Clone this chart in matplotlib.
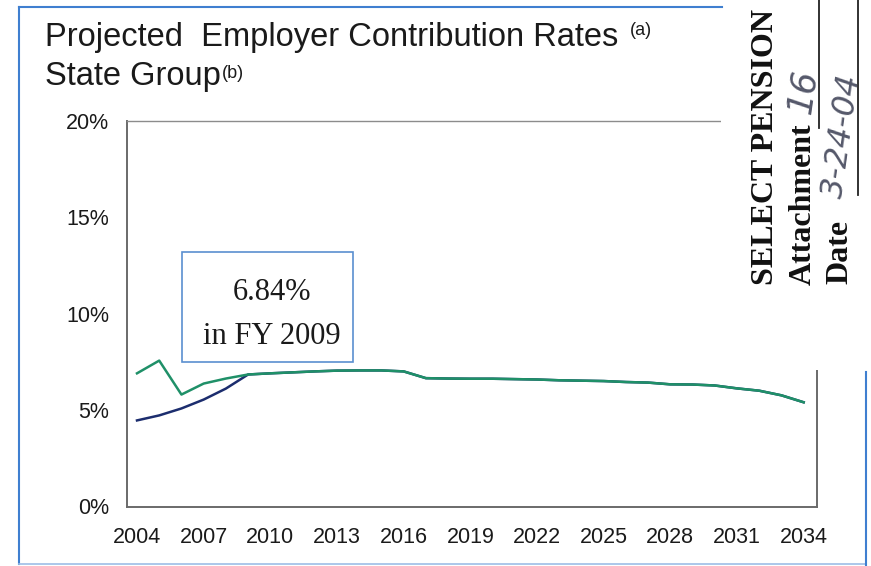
#!/usr/bin/env python3
"""Projected employer contribution rates, State Group, FY 2004-2034."""

import matplotlib

matplotlib.use("Agg")

import matplotlib.pyplot as plt
from matplotlib.patches import Rectangle

GREEN = "#1f9068"
NAVY = "#1c2d6e"
FRAME = "#6a6a6a"
BORDER = "#3f7fd0"
INK = "#1a1a1a"
PEN = "#55586a"

years = list(range(2004, 2035))
tick_years = list(range(2004, 2035, 3))
y_ticks = [0, 5, 10, 15, 20]

# shared projection after FY 2009
shared = [6.90, 6.95, 7.00, 7.04, 7.05, 7.05, 7.00, 6.65, 6.63, 6.62,
          6.62, 6.60, 6.58, 6.54, 6.52, 6.50, 6.45, 6.42, 6.33, 6.32,
          6.27, 6.12, 6.00, 5.76, 5.40]
rate_green = [6.90, 7.56, 5.80, 6.37, 6.63, 6.84] + shared
rate_navy = [4.46, 4.72, 5.08, 5.54, 6.11, 6.84] + shared

W, H = 871, 566
fig = plt.figure(figsize=(W / 100, H / 100), dpi=100)
fig.patch.set_facecolor("white")


def px(x0, y0, x1, y1):
    """Axes rect from pixel box (top-left origin)."""
    return [x0 / W, 1 - y1 / H, (x1 - x0) / W, (y1 - y0) / H]


ax = fig.add_axes(px(127, 120.5, 817, 506.5))
ax.plot(years, rate_navy, color=NAVY, lw=1.8, zorder=2)
ax.plot(years, rate_green, color=GREEN, lw=1.8, zorder=3)
ax.set_xlim(2003.55, 2034.6)
ax.set_ylim(0, 20)
ax.set_xticks(tick_years, [str(y) for y in tick_years])
ax.set_yticks(y_ticks, [f"{v}%" for v in y_ticks])
ax.tick_params(length=0, labelsize=15.5, colors=INK)
ax.tick_params(axis="y", pad=13)
ax.tick_params(axis="x", pad=15)
for lab in ax.get_xticklabels() + ax.get_yticklabels():
    lab.set_family("Liberation Sans")
ax.spines["top"].set_color("#8c8c8c")
ax.spines["top"].set_linewidth(1.0)
for side in ("left", "bottom", "right"):
    ax.spines[side].set_color(FRAME)
    ax.spines[side].set_linewidth(1.4)

# overlay in pixel coordinates for the slide decoration and stamp
ov = fig.add_axes([0, 0, 1, 1], zorder=5)
ov.set_xlim(0, W)
ov.set_ylim(H, 0)
ov.axis("off")
ov.patch.set_alpha(0)

ov.add_patch(Rectangle((182, 252), 171, 110, facecolor="white",
                       edgecolor="#5a8fd0", lw=1.2))
ov.text(272, 293, "6.84%", ha="center", va="center", fontsize=22,
        family="Liberation Serif", color=INK)
ov.text(272, 337, "in FY 2009", ha="center", va="center", fontsize=22,
        family="Liberation Serif", color=INK)

ov.text(45, 46, "Projected  Employer Contribution Rates", ha="left",
        va="baseline", fontsize=23.5, family="Liberation Sans", color=INK)
ov.text(630, 35, "(a)", ha="left", va="baseline", fontsize=13,
        family="Liberation Sans", color=INK)
ov.text(45, 85, "State Group", ha="left", va="baseline", fontsize=23.5,
        family="Liberation Sans", color=INK)
ov.text(222, 78, "(b)", ha="left", va="baseline", fontsize=13,
        family="Liberation Sans", color=INK)

# slide frame
ov.plot([19, 722], [7, 7], color=BORDER, lw=1.5)
ov.plot([19, 19], [7, 564], color=BORDER, lw=1.5)
ov.plot([19, 866], [564, 564], color="#9dbde6", lw=1.2)
ov.plot([866, 866], [372, 566], color=BORDER, lw=1.5)

# attachment stamp pasted over the corner
ov.add_patch(Rectangle((721, -2), 160, 372, facecolor="white",
                       edgecolor="none"))
stamp = dict(rotation=90, rotation_mode="anchor", ha="left", va="center",
             family="Liberation Serif", fontweight="bold", color="#111111")
ov.text(765, 285, "SELECT PENSION", fontsize=23, **stamp)
ov.text(803, 285, "Attachment", fontsize=23, **stamp)
ov.text(840, 284, "Date", fontsize=23, **stamp)
ov.plot([819, 819], [0, 128], color="#222222", lw=1.3)
ov.plot([858, 858], [0, 195], color="#222222", lw=1.3)
hand = dict(rotation=82, rotation_mode="anchor", ha="left", va="center",
            family="DejaVu Sans", style="italic", color=PEN,
            fontweight="light")
ov.text(800, 114, "16", fontsize=25, **hand)
ov.text(834, 198, "3-24-04", fontsize=23, **hand)

fig.savefig("out.png", dpi=100)
